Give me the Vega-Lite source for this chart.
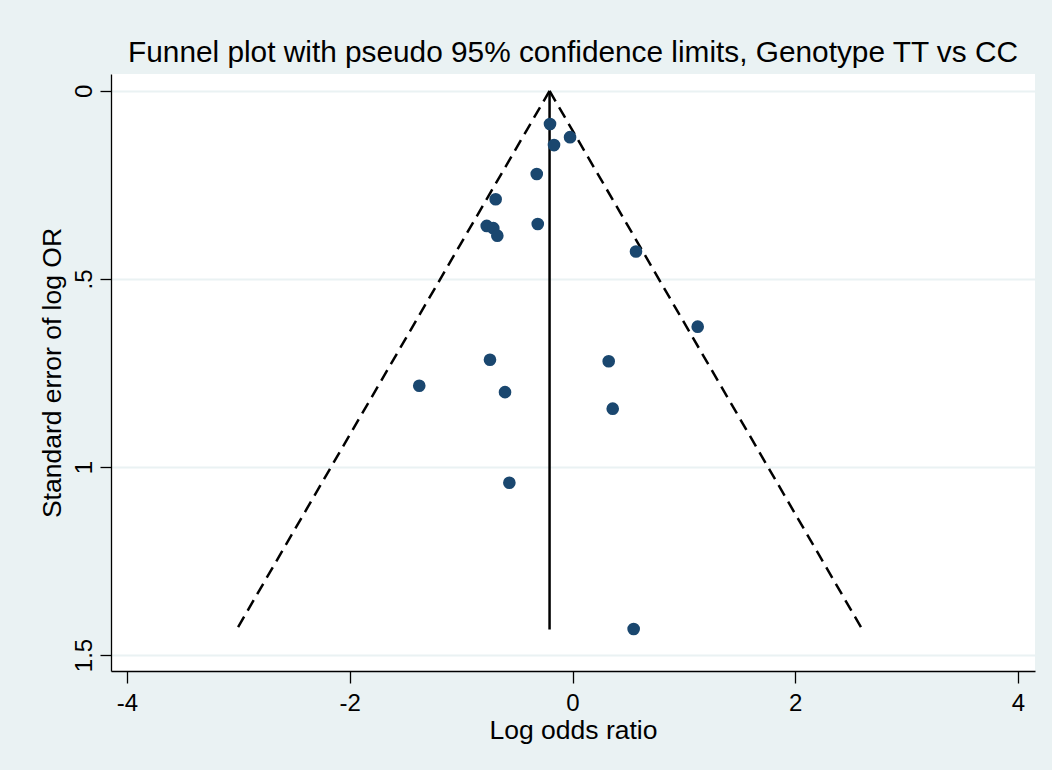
{
  "$schema": "https://vega.github.io/schema/vega-lite/v6.json",
  "autosize": {"type": "none"},
  "width": 924,
  "height": 597,
  "padding": {"left": 111, "top": 74, "right": 17, "bottom": 99},
  "background": "#EAF2F3",
  "config": {
    "font": "Liberation Sans",
    "view": {"stroke": null, "fill": "white"},
    "axis": {"labelFont": "Liberation Sans", "titleFont": "Liberation Sans", "labelColor": "black", "titleColor": "black", "titleFontWeight": "normal", "domainColor": "black", "tickColor": "black", "domainWidth": 1.3, "tickWidth": 1.3}
  },
  "title": {"text": "Funnel plot with pseudo 95% confidence limits, Genotype TT vs CC", "fontSize": 29.8, "fontWeight": "normal", "font": "Liberation Sans", "color": "black", "anchor": "middle", "offset": 6},
  "datasets": {
    "studies": [
      {"logor": -0.202, "se": 0.088},
      {"logor": -0.022, "se": 0.123},
      {"logor": -0.166, "se": 0.144},
      {"logor": -0.321, "se": 0.221},
      {"logor": -0.690, "se": 0.288},
      {"logor": -0.770, "se": 0.359},
      {"logor": -0.711, "se": 0.365},
      {"logor": -0.675, "se": 0.385},
      {"logor": -0.312, "se": 0.354},
      {"logor": 0.570, "se": 0.427},
      {"logor": 1.124, "se": 0.627},
      {"logor": -0.741, "se": 0.715},
      {"logor": 0.325, "se": 0.719},
      {"logor": -1.376, "se": 0.784},
      {"logor": -0.606, "se": 0.801},
      {"logor": 0.361, "se": 0.845},
      {"logor": -0.567, "se": 1.042},
      {"logor": 0.549, "se": 1.431}
    ],
    "funnel": [
      {"side": "lower", "logor": -3.015, "se": 1.432},
      {"side": "lower", "logor": -0.206, "se": 0},
      {"side": "upper", "logor": -0.206, "se": 0},
      {"side": "upper", "logor": 2.602, "se": 1.432}
    ],
    "pooled": [
      {"logor": -0.206, "se": 0},
      {"logor": -0.206, "se": 1.432}
    ]
  },
  "layer": [
    {
      "data": {"name": "funnel"},
      "mark": {"type": "line", "color": "black", "strokeWidth": 2.5, "strokeDash": [12, 7], "clip": true},
      "encoding": {
        "x": {"field": "logor", "type": "quantitative", "scale": {"domain": [-4.1437, 4.1526], "nice": false, "zero": false},
          "axis": {"values": [-4, -2, 0, 2, 4], "title": "Log odds ratio", "grid": false, "labelFontSize": 24, "titleFontSize": 26.5, "tickSize": 12, "labelPadding": 8, "titlePadding": 2,
            "labelExpr": "'' + datum.value"}},
        "y": {"field": "se", "type": "quantitative", "scale": {"domain": [-0.045, 1.5426], "nice": false, "zero": false, "reverse": true},
          "axis": {"values": [0, 0.5, 1, 1.5], "title": "Standard error of log OR", "grid": true, "gridColor": "#EAF2F3", "gridWidth": 2, "labelAngle": -90, "labelAlign": "center", "labelBaseline": "bottom", "labelFontSize": 24, "titleFontSize": 26.5, "tickSize": 11, "labelPadding": 4, "titlePadding": 6,
            "labelExpr": "datum.value == 0 ? '0' : datum.value == 0.5 ? '.5' : datum.value == 1 ? '1' : '1.5'"}},
        "detail": {"field": "side"},
        "order": {"field": "se"}
      }
    },
    {
      "data": {"name": "pooled"},
      "mark": {"type": "line", "color": "black", "strokeWidth": 2.5},
      "encoding": {
        "x": {"field": "logor", "type": "quantitative"},
        "y": {"field": "se", "type": "quantitative"}
      }
    },
    {
      "data": {"name": "studies"},
      "mark": {"type": "point", "filled": true, "shape": "circle", "size": 160, "color": "#1A476F", "opacity": 1},
      "encoding": {
        "x": {"field": "logor", "type": "quantitative"},
        "y": {"field": "se", "type": "quantitative"}
      }
    }
  ]
}
